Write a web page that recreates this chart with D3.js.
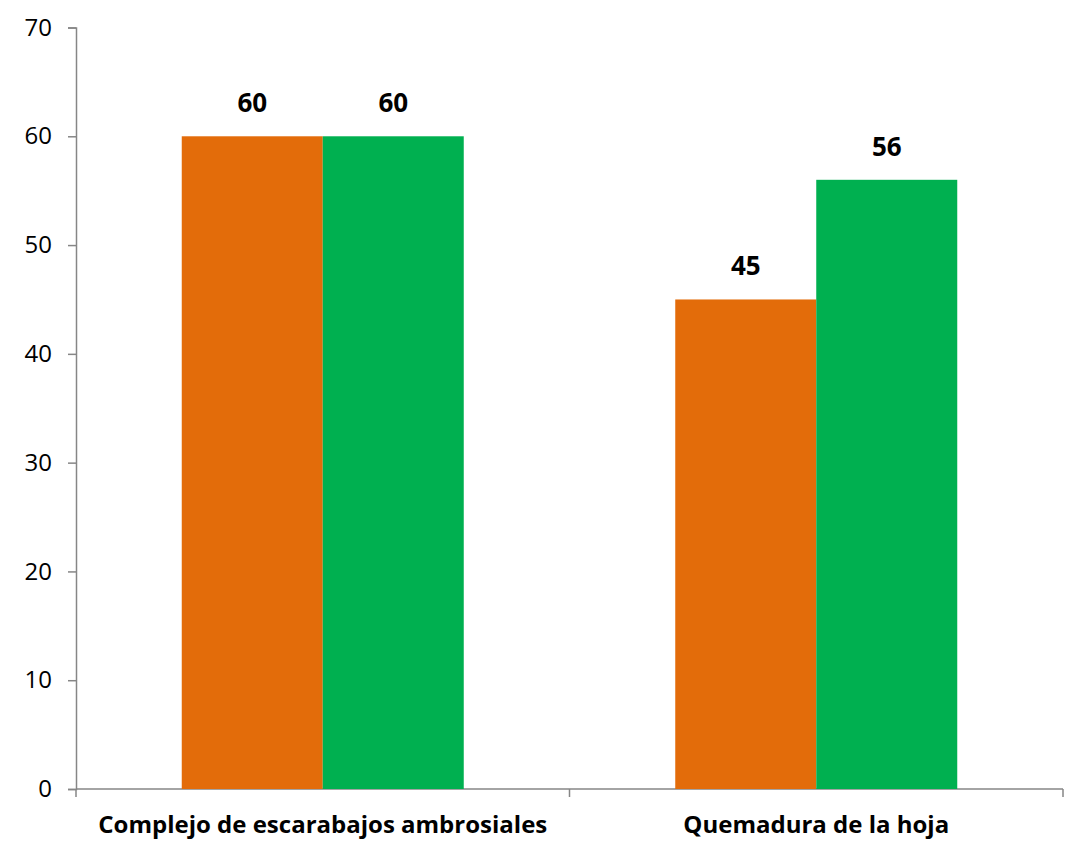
<!DOCTYPE html>
<html>
<head>
<meta charset="utf-8">
<script src="https://d3js.org/d3.v7.min.js"></script>
<style>
* { padding: 0px; margin: 0px; }
body { background: #fff; }
svg { font-family: 'Open Sans', sans-serif; }
.domain, .tick line { stroke: #868686; stroke-width: 1.5px; }
</style>
</head>
<body>
<svg width="1079" height="841"></svg>
<script>
let categories = ["Complejo de escarabajos ambrosiales", "Quemadura de la hoja"]
let seriesNames = ["serie1", "serie2"]
let serie1 = [60, 45]
let serie2 = [60, 56]
let colors = ["#E36C0A", "#00B050"]
let yTicks = [0, 10, 20, 30, 40, 50, 60, 70]

let svg = d3.select("svg")

let x0 = d3.scaleBand().domain(categories).range([76, 1063])
let x1 = d3.scaleBand().domain(seriesNames).range([0, x0.bandwidth()]).paddingOuter(0.75)
let y = d3.scaleLinear().domain([0, 70]).range([789, 27.5])

// y axis
let yAxis = svg.append("g")
    .attr("transform", "translate(76,0)")
    .call(d3.axisLeft(y).tickValues(yTicks).tickSize(8).tickPadding(16).tickSizeOuter(8))
yAxis.selectAll("text").attr("font-size", "24px").attr("fill", "#000")
    .attr("font-family", "'Open Sans', sans-serif")

// x axis line + boundary ticks
let xg = svg.append("g")
xg.append("line")
    .attr("x1", x0.range()[0]).attr("x2", x0.range()[1])
    .attr("y1", y(0)).attr("y2", y(0))
    .attr("stroke", "#868686").attr("stroke-width", 1.5)
let bounds = categories.map(c => x0(c)).concat([x0.range()[1]])
xg.selectAll(".xt").data(bounds).enter().append("line")
    .attr("class", "xt")
    .attr("x1", d => d).attr("x2", d => d)
    .attr("y1", y(0)).attr("y2", y(0) + 8)
    .attr("stroke", "#868686").attr("stroke-width", 1.5)

xg.selectAll(".cat").data(categories).enter().append("text")
    .attr("class", "cat")
    .attr("x", d => x0(d) + x0.bandwidth() / 2)
    .attr("y", 833)
    .attr("text-anchor", "middle")
    .attr("font-weight", "bold")
    .attr("font-size", "24px")
    .text(d => d)

// bars
let rows = []
categories.forEach((c, i) => {
    rows.push({cat: c, s: "serie1", v: serie1[i], color: colors[0]})
    rows.push({cat: c, s: "serie2", v: serie2[i], color: colors[1]})
})

let bars = svg.append("g").selectAll("g").data(rows).enter().append("g")
bars.append("rect")
    .attr("x", d => x0(d.cat) + x1(d.s))
    .attr("y", d => y(d.v))
    .attr("width", x1.bandwidth())
    .attr("height", d => y(0) - y(d.v))
    .attr("fill", d => d.color)

bars.append("text")
    .attr("x", d => x0(d.cat) + x1(d.s) + x1.bandwidth() / 2)
    .attr("y", d => y(d.v) - 24)
    .attr("text-anchor", "middle")
    .attr("font-weight", "bold")
    .attr("font-size", "26px")
    .text(d => d.v)

// redraw axis lines on top of bars
svg.node().appendChild(yAxis.node())
</script>
</body>
</html>
